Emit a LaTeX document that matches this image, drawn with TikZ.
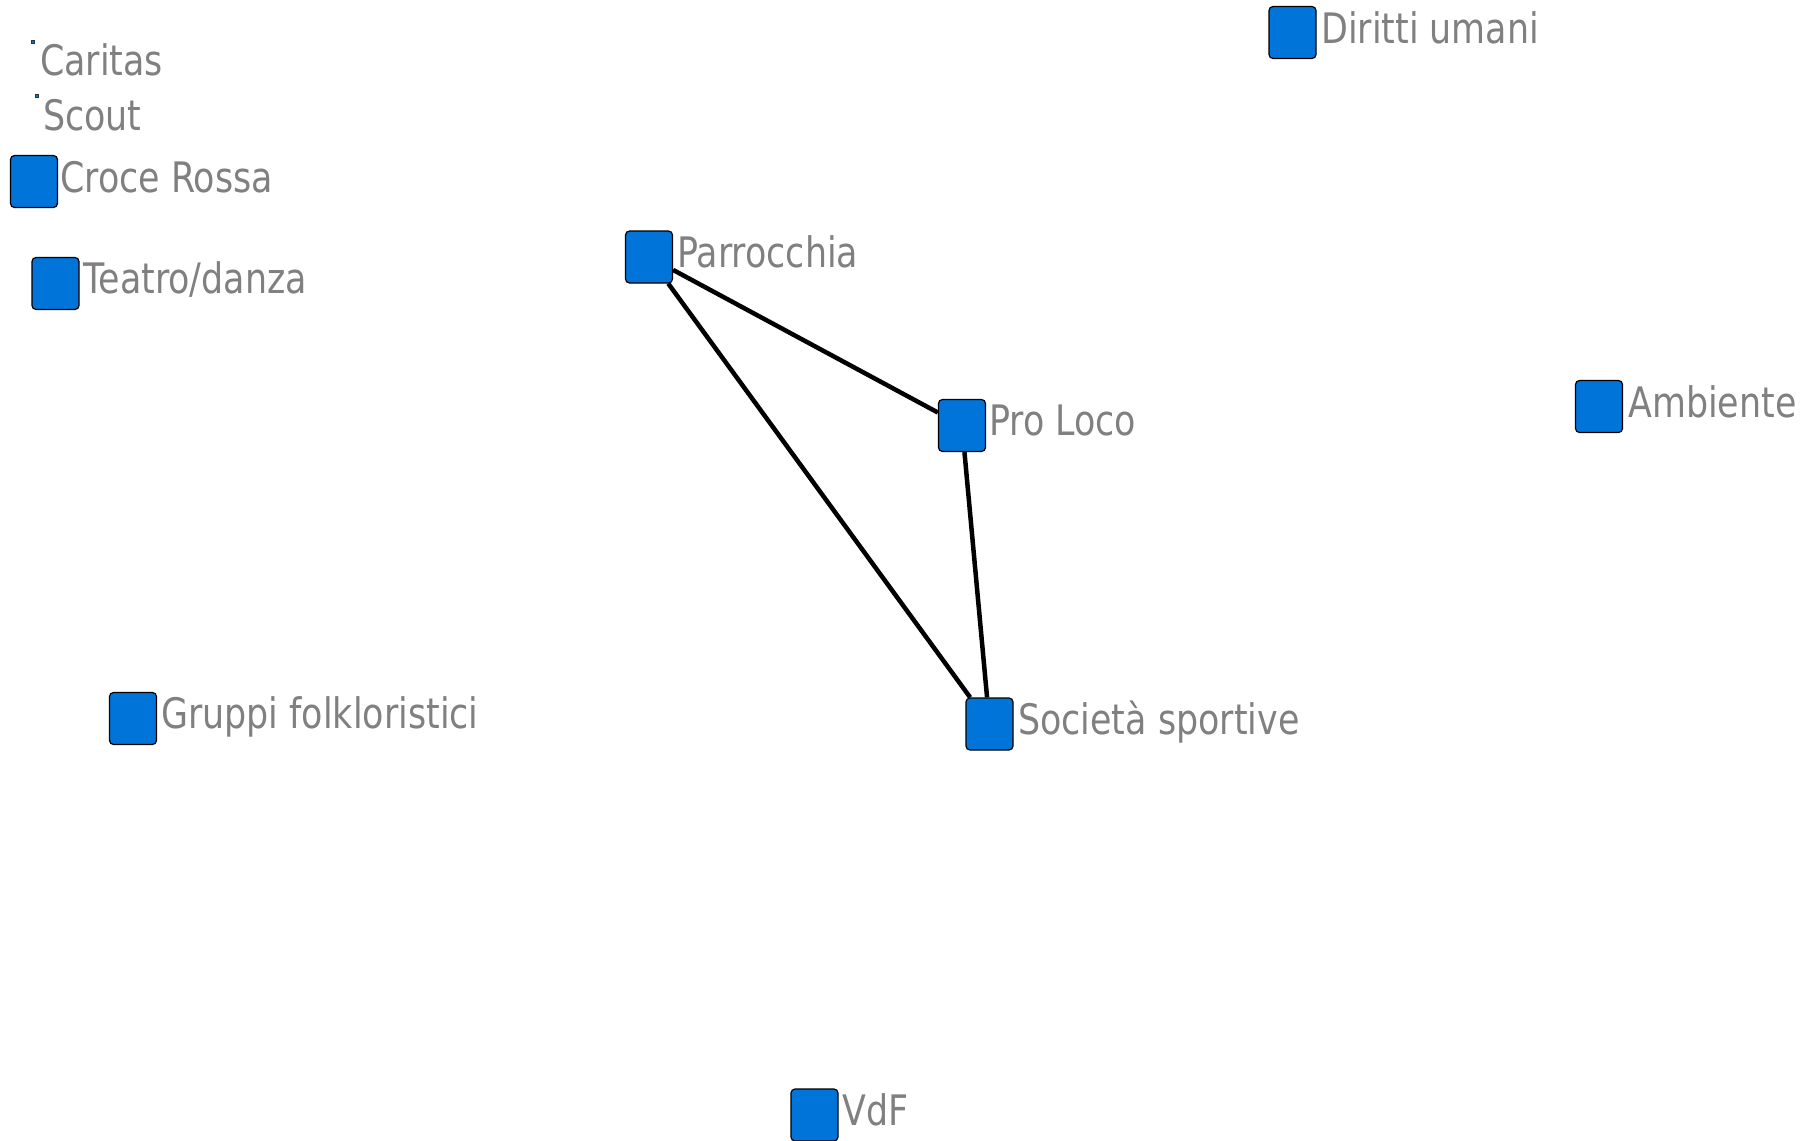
\documentclass[tikz,border=0pt]{standalone}
\usepackage{fontspec}
\newfontfamily\labfont[FakeStretch=0.83]{DejaVu Sans}
\definecolor{nodeblue}{RGB}{0,116,217}
\definecolor{labgray}{RGB}{128,128,128}
\tikzset{
  box/.style={draw=black, line width=1.2pt, fill=nodeblue, rounded corners=4pt,
    minimum width=47pt, minimum height=52pt, inner sep=0pt},
  dot/.style={draw=black!80, line width=0.8pt, fill=nodeblue, minimum size=3.5pt, inner sep=0pt},
  lab/.style={anchor=base west, inner sep=0pt, text=labgray, font=\labfont\fontsize{42}{42}\selectfont},
  edge/.style={draw=black, line width=4.5pt}
}
\begin{document}
\begin{tikzpicture}[x=1pt,y=-1pt]
\useasboundingbox (0,0) rectangle (1803,1140);
% nodes
\node[dot] (car) at (33,42) {};
\node[dot] (sco) at (37,96) {};
\node[box] (cro) at (34,181.5) {};
\node[box] (tea) at (55.5,283.5) {};
\node[box] (par) at (649,257) {};
\node[box] (pro) at (962,425.5) {};
\node[box] (soc) at (989.5,724) {};
\node[box] (dir) at (1292.5,32.5) {};
\node[box] (amb) at (1599,406.5) {};
\node[box] (gru) at (133,718.5) {};
\node[box] (vdf) at (814.5,1115) {};
% edges
\draw[edge] (par) -- (pro);
\draw[edge] (par) -- (soc);
\draw[edge] (pro) -- (soc);
% labels
\node[lab] (car-t) at (40,75) {Caritas};
\node[lab] (sco-t) at (43,130) {Scout};
\node[lab] (cro-t) at (60,192) {Croce Rossa};
\node[lab] (tea-t) at (83,293) {Teatro/danza};
\node[lab] (par-t) at (677,267) {Parrocchia};
\node[lab] (pro-t) at (989,435) {Pro Loco};
\node[lab] (soc-t) at (1018,734) {Società sportive};
\node[lab] (dir-t) at (1321,44) {Diritti umani};
\node[lab] (amb-t) at (1628,417) {Ambiente};
\node[lab] (gru-t) at (161,728) {Gruppi folkloristici};
\node[lab] (vdf-t) at (842,1125) {VdF};
\end{tikzpicture}
\end{document}
